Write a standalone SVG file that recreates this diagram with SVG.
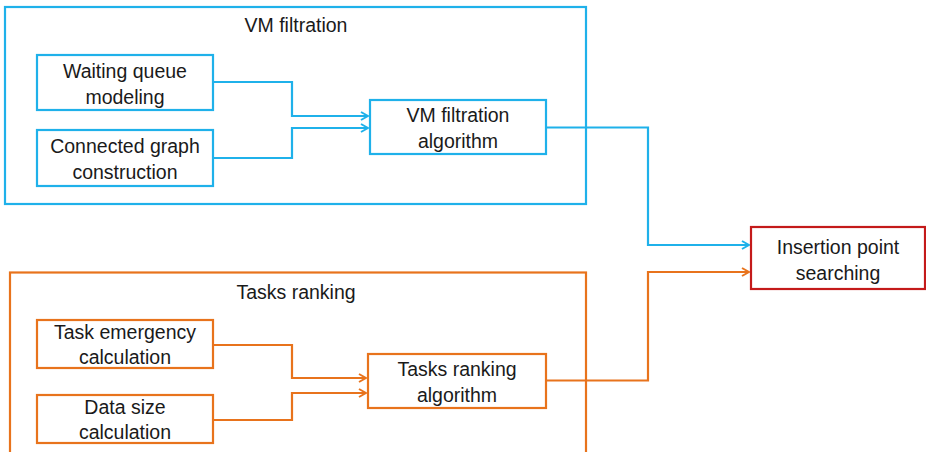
<svg xmlns="http://www.w3.org/2000/svg" width="926" height="452" viewBox="0 0 926 452">
<defs>
<style>
text{font-family:"Liberation Sans",Arial,sans-serif;font-size:19.5px;fill:#1a1a1a;text-anchor:middle}
.b{fill:#fff;stroke:#1fb1ea;stroke-width:2.2}
.o{fill:#fff;stroke:#e8731c;stroke-width:2.2}
.r{fill:#fff;stroke:#c41a1a;stroke-width:2.2}
.cb{fill:none;stroke:#1fb1ea;stroke-width:2.2}
.co{fill:none;stroke:#e8731c;stroke-width:2.2}
</style>
<marker id="ab" viewBox="0 0 10 10" refX="9" refY="5" markerWidth="10" markerHeight="10" markerUnits="userSpaceOnUse" orient="auto"><path d="M2,1 L9,5 L2,9" fill="none" stroke="#1fb1ea" stroke-width="2"/></marker>
<marker id="ao" viewBox="0 0 10 10" refX="9" refY="5" markerWidth="10" markerHeight="10" markerUnits="userSpaceOnUse" orient="auto"><path d="M2,1 L9,5 L2,9" fill="none" stroke="#e8731c" stroke-width="2"/></marker>
</defs>
<rect width="926" height="452" fill="#fff"/>
<g id="vm-filtration-group">
<rect class="b" x="5" y="7" width="581" height="197"/>
<text x="296" y="32">VM filtration</text>
</g>
<g id="tasks-ranking-group">
<rect class="o" x="10" y="272.5" width="576" height="190"/>
<text x="296" y="299">Tasks ranking</text>
</g>
<g id="connectors">
<path class="cb" d="M213,82 H292 V116 H368" marker-end="url(#ab)"/>
<path class="cb" d="M213,158 H292 V128 H368" marker-end="url(#ab)"/>
<path class="cb" d="M546,127.5 H648 V245 H749" marker-end="url(#ab)"/>
<path class="co" d="M213,345 H292 V378 H366" marker-end="url(#ao)"/>
<path class="co" d="M213,420 H292 V393 H366" marker-end="url(#ao)"/>
<path class="co" d="M546,380.5 H648 V272 H749" marker-end="url(#ao)"/>
</g>
<g id="waiting-queue">
<rect class="b" x="37" y="55" width="176" height="55"/>
<text x="125" y="78">Waiting queue</text>
<text x="125" y="104">modeling</text>
</g>
<g id="connected-graph">
<rect class="b" x="37" y="130" width="176" height="56"/>
<text x="125" y="153">Connected graph</text>
<text x="125" y="179">construction</text>
</g>
<g id="vm-algorithm">
<rect class="b" x="370" y="100" width="176" height="54"/>
<text x="458" y="122">VM filtration</text>
<text x="458" y="148">algorithm</text>
</g>
<g id="task-emergency">
<rect class="o" x="37" y="320" width="176" height="48"/>
<text x="125" y="339">Task emergency</text>
<text x="125" y="364">calculation</text>
</g>
<g id="data-size">
<rect class="o" x="37" y="395" width="176" height="48"/>
<text x="125" y="414">Data size</text>
<text x="125" y="439">calculation</text>
</g>
<g id="tasks-algorithm">
<rect class="o" x="368" y="354" width="178" height="54"/>
<text x="457" y="376">Tasks ranking</text>
<text x="457" y="402">algorithm</text>
</g>
<g id="insertion-point">
<rect class="r" x="751" y="227" width="174" height="62"/>
<text x="838" y="254">Insertion point</text>
<text x="838" y="280">searching</text>
</g>
</svg>
